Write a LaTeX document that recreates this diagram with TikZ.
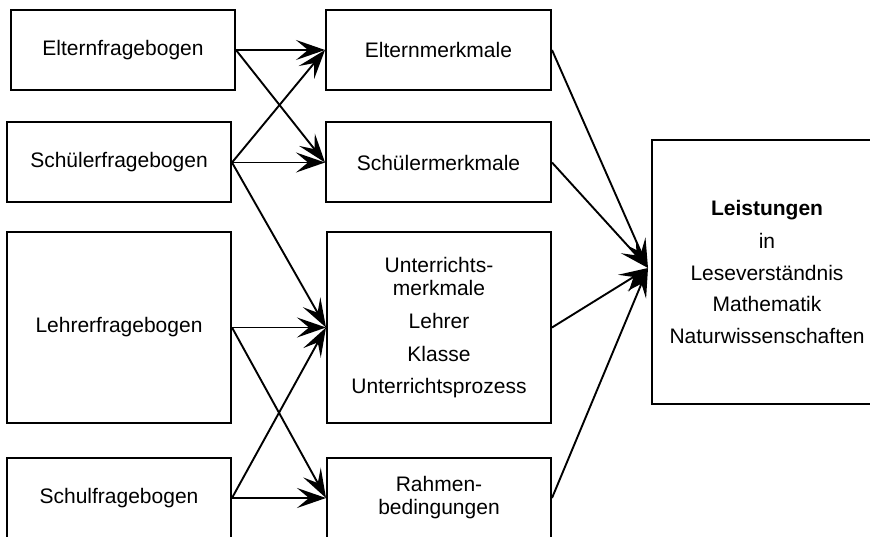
\documentclass[tikz,border=0pt]{standalone}
\usepackage{fontspec}
\setmainfont{Liberation Sans}
\usetikzlibrary{arrows.meta}
\begin{document}
\begin{tikzpicture}[x=1pt,y=-1pt,
  box/.style={draw,line width=2pt,inner sep=0pt,align=center,
    font=\fontsize{21}{23}\selectfont},
  conn/.style={line width=1.9pt,-{Stealth[length=29pt,width=20pt,inset=12pt]}}]
\useasboundingbox (0,0) rectangle (870,537);
\clip (0,0) rectangle (870,537);
% left column
\node[box,minimum width=224pt,minimum height=80pt] (ef) at (123,50) {Elternfragebogen};
\node[box,minimum width=224pt,minimum height=80pt] (sf) at (119,162.5) {Schülerfragebogen};
\node[box,minimum width=224pt,minimum height=191pt] (lf) at (119,327.5) {Lehrerfragebogen};
\node[box,minimum width=224pt,minimum height=80pt] (scf) at (119,498) {Schulfragebogen};
% middle column
\node[box,minimum width=225pt,minimum height=80pt] (em) at (438.5,50) {Elternmerkmale};
\node[box,minimum width=225pt,minimum height=80pt] (sm) at (438.5,162.5) {Schülermerkmale};
\node[box,minimum width=224pt,minimum height=191pt] (um) at (439,327.5) {Unterrichts-\\merkmale\\[10pt]Lehrer\\[10pt]Klasse\\[9pt]Unterrichtsprozess};
\node[box,minimum width=224pt,minimum height=80pt] (rb) at (439,498) {Rahmen-\\bedingungen};
% right
\node[box,minimum width=230pt,minimum height=264pt] (lei) at (767,272) {\textbf{Leistungen}\\[10pt]in\\[9pt]Leseverständnis\\[8pt]Mathematik\\[9pt]Naturwissenschaften};
\coordinate (lt) at (648,268);
% connectors left -> middle
\draw[conn] (ef.east) -- (em.west);
\draw[conn] (ef.east) -- (sm.west);
\draw[conn] (sf.east) -- (em.west);
\draw[conn] (sf.east) -- (sm.west);
\draw[conn] (sf.east) -- (um.west);
\draw[conn] (lf.east) -- (um.west);
\draw[conn] (lf.east) -- (rb.west);
\draw[conn] (scf.east) -- (um.west);
\draw[conn] (scf.east) -- (rb.west);
% middle -> right
\draw[conn] (em.east) -- (lt);
\draw[conn] (sm.east) -- (lt);
\draw[conn] (um.east) -- (lt);
\draw[conn] (rb.east) -- (lt);
\end{tikzpicture}
\end{document}
